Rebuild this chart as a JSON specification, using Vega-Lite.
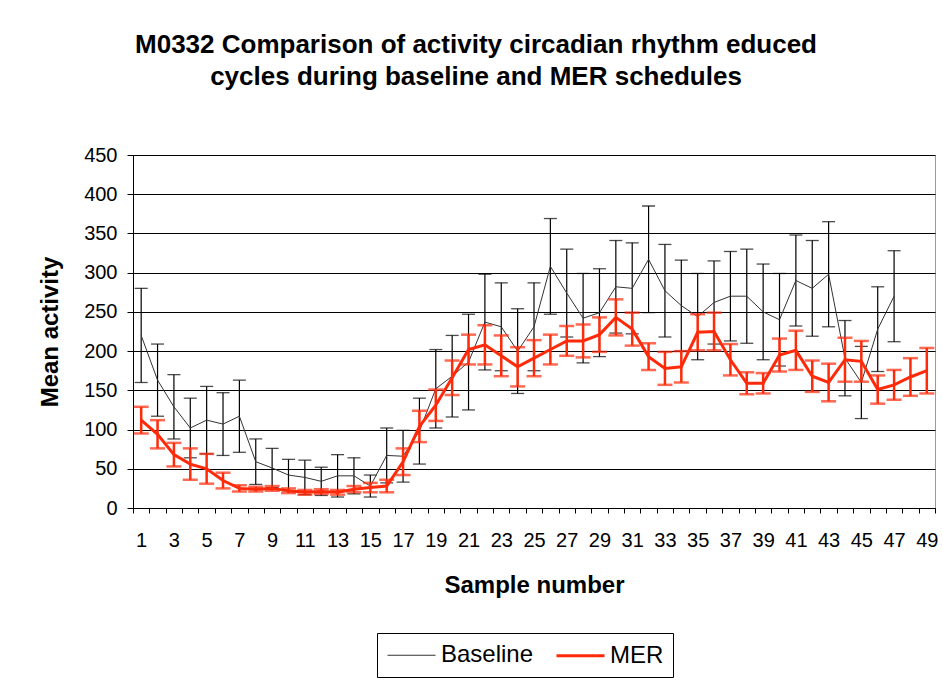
{
  "$schema": "https://vega.github.io/schema/vega-lite/v6.json",
  "width": 802,
  "height": 353,
  "autosize": {"type": "none"},
  "padding": {"left": 133, "top": 155, "right": 7, "bottom": 173},
  "background": "white",
  "config": {
    "font": "Liberation Sans",
    "view": {"stroke": "#9a9a9a", "strokeWidth": 1}
  },
  "title": {
    "text": ["M0332 Comparison of activity circadian rhythm educed", "cycles during baseline and MER schedules"],
    "font": "Liberation Sans",
    "fontSize": 26,
    "fontWeight": "bold",
    "color": "#000",
    "anchor": "middle",
    "frame": "group",
    "dx": -58,
    "lineHeight": 32,
    "offset": 55
  },
  "data": {
    "values": [
      {"sample": 1, "series": "Baseline", "mean": 220, "err": 60},
      {"sample": 2, "series": "Baseline", "mean": 163, "err": 46},
      {"sample": 3, "series": "Baseline", "mean": 129, "err": 41},
      {"sample": 4, "series": "Baseline", "mean": 102, "err": 38},
      {"sample": 5, "series": "Baseline", "mean": 112, "err": 43},
      {"sample": 6, "series": "Baseline", "mean": 107, "err": 40},
      {"sample": 7, "series": "Baseline", "mean": 117, "err": 46},
      {"sample": 8, "series": "Baseline", "mean": 59, "err": 29},
      {"sample": 9, "series": "Baseline", "mean": 51, "err": 25},
      {"sample": 10, "series": "Baseline", "mean": 42, "err": 20},
      {"sample": 11, "series": "Baseline", "mean": 39, "err": 22},
      {"sample": 12, "series": "Baseline", "mean": 34, "err": 18},
      {"sample": 13, "series": "Baseline", "mean": 41, "err": 27},
      {"sample": 14, "series": "Baseline", "mean": 41, "err": 23},
      {"sample": 15, "series": "Baseline", "mean": 28, "err": 14},
      {"sample": 16, "series": "Baseline", "mean": 67, "err": 35},
      {"sample": 17, "series": "Baseline", "mean": 66, "err": 33},
      {"sample": 18, "series": "Baseline", "mean": 98, "err": 42},
      {"sample": 19, "series": "Baseline", "mean": 152, "err": 50},
      {"sample": 20, "series": "Baseline", "mean": 168, "err": 52},
      {"sample": 21, "series": "Baseline", "mean": 186, "err": 61},
      {"sample": 22, "series": "Baseline", "mean": 237, "err": 61},
      {"sample": 23, "series": "Baseline", "mean": 231, "err": 56},
      {"sample": 24, "series": "Baseline", "mean": 200, "err": 54},
      {"sample": 25, "series": "Baseline", "mean": 231, "err": 56},
      {"sample": 26, "series": "Baseline", "mean": 308, "err": 61},
      {"sample": 27, "series": "Baseline", "mean": 274, "err": 56},
      {"sample": 28, "series": "Baseline", "mean": 242, "err": 57},
      {"sample": 29, "series": "Baseline", "mean": 249, "err": 56},
      {"sample": 30, "series": "Baseline", "mean": 282, "err": 59},
      {"sample": 31, "series": "Baseline", "mean": 280, "err": 58},
      {"sample": 32, "series": "Baseline", "mean": 317, "err": 68},
      {"sample": 33, "series": "Baseline", "mean": 277, "err": 59},
      {"sample": 34, "series": "Baseline", "mean": 258, "err": 58},
      {"sample": 35, "series": "Baseline", "mean": 244, "err": 55},
      {"sample": 36, "series": "Baseline", "mean": 262, "err": 53},
      {"sample": 37, "series": "Baseline", "mean": 270, "err": 57},
      {"sample": 38, "series": "Baseline", "mean": 270, "err": 60},
      {"sample": 39, "series": "Baseline", "mean": 250, "err": 61},
      {"sample": 40, "series": "Baseline", "mean": 240, "err": 59},
      {"sample": 41, "series": "Baseline", "mean": 290, "err": 58},
      {"sample": 42, "series": "Baseline", "mean": 280, "err": 61},
      {"sample": 43, "series": "Baseline", "mean": 298, "err": 67},
      {"sample": 44, "series": "Baseline", "mean": 191, "err": 48},
      {"sample": 45, "series": "Baseline", "mean": 160, "err": 46},
      {"sample": 46, "series": "Baseline", "mean": 228, "err": 54},
      {"sample": 47, "series": "Baseline", "mean": 270, "err": 58},
      {"sample": 1, "series": "MER", "mean": 112, "err": 17},
      {"sample": 2, "series": "MER", "mean": 94, "err": 18},
      {"sample": 3, "series": "MER", "mean": 68, "err": 15},
      {"sample": 4, "series": "MER", "mean": 56, "err": 20},
      {"sample": 5, "series": "MER", "mean": 50, "err": 19},
      {"sample": 6, "series": "MER", "mean": 35, "err": 10},
      {"sample": 7, "series": "MER", "mean": 25, "err": 4},
      {"sample": 8, "series": "MER", "mean": 24, "err": 3},
      {"sample": 9, "series": "MER", "mean": 25, "err": 3},
      {"sample": 10, "series": "MER", "mean": 22, "err": 3},
      {"sample": 11, "series": "MER", "mean": 20, "err": 3},
      {"sample": 12, "series": "MER", "mean": 21, "err": 3},
      {"sample": 13, "series": "MER", "mean": 20, "err": 3},
      {"sample": 14, "series": "MER", "mean": 24, "err": 4},
      {"sample": 15, "series": "MER", "mean": 26, "err": 6},
      {"sample": 16, "series": "MER", "mean": 28, "err": 8},
      {"sample": 17, "series": "MER", "mean": 59, "err": 17},
      {"sample": 18, "series": "MER", "mean": 104, "err": 20},
      {"sample": 19, "series": "MER", "mean": 131, "err": 20},
      {"sample": 20, "series": "MER", "mean": 166, "err": 22},
      {"sample": 21, "series": "MER", "mean": 202, "err": 19},
      {"sample": 22, "series": "MER", "mean": 208, "err": 25},
      {"sample": 23, "series": "MER", "mean": 194, "err": 26},
      {"sample": 24, "series": "MER", "mean": 180, "err": 25},
      {"sample": 25, "series": "MER", "mean": 191, "err": 23},
      {"sample": 26, "series": "MER", "mean": 202, "err": 19},
      {"sample": 27, "series": "MER", "mean": 213, "err": 19},
      {"sample": 28, "series": "MER", "mean": 213, "err": 21},
      {"sample": 29, "series": "MER", "mean": 221, "err": 22},
      {"sample": 30, "series": "MER", "mean": 243, "err": 23},
      {"sample": 31, "series": "MER", "mean": 228, "err": 21},
      {"sample": 32, "series": "MER", "mean": 193, "err": 17},
      {"sample": 33, "series": "MER", "mean": 178, "err": 21},
      {"sample": 34, "series": "MER", "mean": 180, "err": 20},
      {"sample": 35, "series": "MER", "mean": 224, "err": 23},
      {"sample": 36, "series": "MER", "mean": 225, "err": 24},
      {"sample": 37, "series": "MER", "mean": 189, "err": 20},
      {"sample": 38, "series": "MER", "mean": 159, "err": 14},
      {"sample": 39, "series": "MER", "mean": 159, "err": 13},
      {"sample": 40, "series": "MER", "mean": 195, "err": 21},
      {"sample": 41, "series": "MER", "mean": 201, "err": 25},
      {"sample": 42, "series": "MER", "mean": 168, "err": 20},
      {"sample": 43, "series": "MER", "mean": 160, "err": 24},
      {"sample": 44, "series": "MER", "mean": 189, "err": 28},
      {"sample": 45, "series": "MER", "mean": 187, "err": 26},
      {"sample": 46, "series": "MER", "mean": 151, "err": 18},
      {"sample": 47, "series": "MER", "mean": 157, "err": 19},
      {"sample": 48, "series": "MER", "mean": 167, "err": 24},
      {"sample": 49, "series": "MER", "mean": 175, "err": 29}
    ]
  },
  "encoding": {
    "x": {
      "field": "sample",
      "type": "ordinal",
      "scale": {"type": "band", "paddingInner": 0, "paddingOuter": 0},
      "axis": {
        "title": "Sample number",
        "titleFont": "Liberation Sans",
        "titleFontSize": 24,
        "titleFontWeight": "bold",
        "titleColor": "#000",
        "titlePadding": 23,
        "labelFont": "Liberation Sans",
        "labelFontSize": 20,
        "labelColor": "#000",
        "labelAngle": 0,
        "labelPadding": 17,
        "labelOverlap": false,
        "labelExpr": "datum.value % 2 == 1 ? datum.label : ''",
        "tickBand": "extent",
        "tickSize": 5,
        "tickColor": "#000",
        "domainColor": "#000",
        "grid": false
      }
    },
    "y": {
      "field": "mean",
      "type": "quantitative",
      "scale": {"domain": [0, 450], "nice": false},
      "axis": {
        "title": "Mean activity",
        "titleFont": "Liberation Sans",
        "titleFontSize": 24,
        "titleFontWeight": "bold",
        "titleColor": "#000",
        "titlePadding": 21,
        "values": [0, 50, 100, 150, 200, 250, 300, 350, 400, 450],
        "labelFont": "Liberation Sans",
        "labelFontSize": 20,
        "labelColor": "#000",
        "labelPadding": 10,
        "tickSize": 6,
        "tickColor": "#000",
        "domainColor": "#000",
        "grid": true,
        "gridColor": "#000",
        "gridOpacity": 1,
        "gridWidth": 1
      }
    }
  },
  "layer": [
    {
      "transform": [{"filter": "datum.series == 'Baseline'"}],
      "mark": {
        "type": "errorbar",
        "color": "#000",
        "rule": {"strokeWidth": 1.2},
        "ticks": {"size": 13, "thickness": 1.3, "color": "#000"}
      },
      "encoding": {"yError": {"field": "err"}}
    },
    {
      "transform": [{"filter": "datum.series == 'Baseline'"}],
      "mark": {"type": "line"},
      "encoding": {
        "color": {"field": "series", "type": "nominal", "scale": {"domain": ["Baseline", "MER"], "range": ["#333333", "#ff2a0a"]}},
        "strokeWidth": {"field": "series", "type": "nominal", "scale": {"domain": ["Baseline", "MER"], "range": [1, 3]}}
      }
    },
    {
      "transform": [{"filter": "datum.series == 'MER'"}],
      "mark": {
        "type": "errorbar",
        "color": "#ff2a0a",
        "rule": {"strokeWidth": 2.5},
        "ticks": {"size": 15, "thickness": 2.5, "color": "#ff2a0a"}
      },
      "encoding": {"yError": {"field": "err"}}
    },
    {
      "transform": [{"filter": "datum.series == 'MER'"}],
      "mark": {"type": "line"},
      "encoding": {
        "color": {
          "field": "series", "type": "nominal",
          "scale": {"domain": ["Baseline", "MER"], "range": ["#333333", "#ff2a0a"]},
          "legend": {
            "title": null,
            "orient": "none",
            "legendX": 244,
            "legendY": 478,
            "direction": "horizontal",
            "columns": 2,
            "symbolType": "M-2,0H2",
            "symbolSize": 576,
            "symbolOffset": 12,
            "labelFont": "Liberation Sans",
            "labelFontSize": 24,
            "labelColor": "#000",
            "labelOffset": 16,
            "columnPadding": 16,
            "padding": 9,
            "labelExpr": "datum.label == 'MER' ? 'MER   ' : datum.label",
            "strokeColor": "#000",
            "fillColor": "#fff"
          }
        },
        "strokeWidth": {"field": "series", "type": "nominal", "scale": {"domain": ["Baseline", "MER"], "range": [1, 3]}}
      }
    }
  ]
}
